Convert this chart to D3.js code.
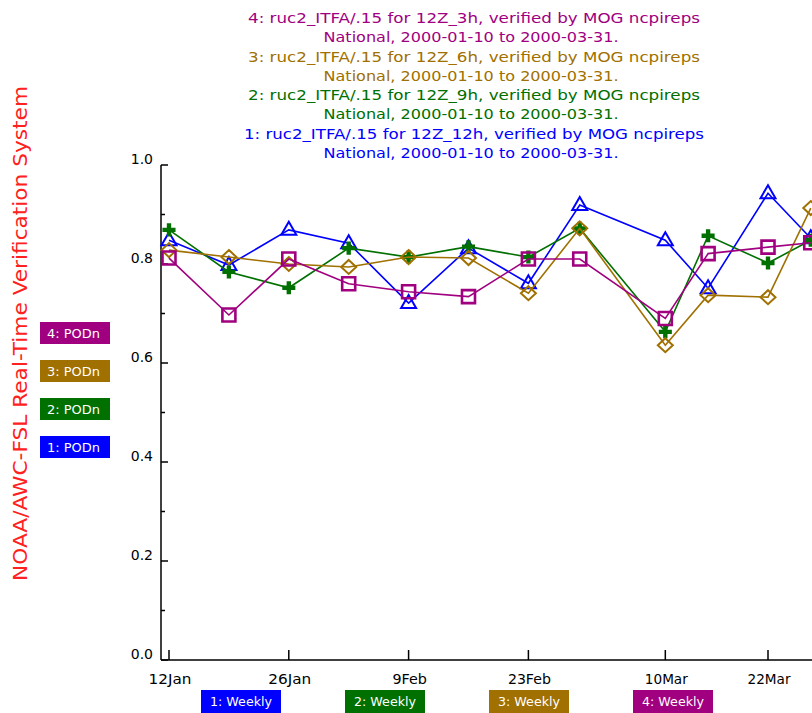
<!DOCTYPE html>
<html>
<head>
<meta charset="utf-8">
<script src="https://cdn.jsdelivr.net/npm/d3@7"></script>
<style>
  body { margin: 0; background: #fff; }
  text { font-family: "DejaVu Sans", sans-serif; }
</style>
</head>
<body>
<div id="chart"></div>
<script>
// weekly sample dates (centre of each verification week)
var dates = ["2000-01-12", "2000-01-19", "2000-01-26", "2000-02-02", "2000-02-09", "2000-02-16",
  "2000-02-23", "2000-02-29", "2000-03-10", "2000-03-15", "2000-03-22", "2000-03-27"];

// PODn for each run
var pod12h = [0.848, 0.798, 0.869, 0.842, 0.721, 0.832, 0.761, 0.919, 0.848, 0.751, 0.943, 0.852];
var pod9h = [0.869, 0.784, 0.752, 0.832, 0.814, 0.835, 0.814, 0.872, 0.663, 0.857, 0.802, 0.848];
var pod6h = [0.828, 0.814, 0.800, 0.794, 0.814, 0.812, 0.741, 0.872, 0.636, 0.737, 0.733, 0.913];
var pod3h = [0.812, 0.697, 0.810, 0.760, 0.744, 0.734, 0.810, 0.810, 0.690, 0.821, 0.834, 0.843];

var tickDates = ["2000-01-12", "2000-01-26", "2000-02-09", "2000-02-23", "2000-03-10", "2000-03-22"];
var tickLabels = ["12Jan", "26Jan", "9Feb", "23Feb", "10Mar", "22Mar"];
var yTicks = [0.0, 0.2, 0.4, 0.6, 0.8, 1.0];
var yMinor = [0.1, 0.3, 0.5, 0.7, 0.9];

var titleLines = [
  "4: ruc2_ITFA/.15 for 12Z_3h, verified by MOG ncpireps",
  "3: ruc2_ITFA/.15 for 12Z_6h, verified by MOG ncpireps",
  "2: ruc2_ITFA/.15 for 12Z_9h, verified by MOG ncpireps",
  "1: ruc2_ITFA/.15 for 12Z_12h, verified by MOG ncpireps"
];
var subTitle = "National, 2000-01-10 to 2000-03-31.";

var colors = { 1: "#0000ff", 2: "#007000", 3: "#a07000", 4: "#a0007f" };

var svgWidth = 812;
var svgHeight = 713;

var parse = d3.utcParse("%Y-%m-%d");

var svg = d3.select("#chart")
  .append("svg")
  .attr("width", svgWidth)
  .attr("height", svgHeight);

// scales
var xScale = d3.scaleUtc()
  .domain([parse("2000-01-12"), parse("2000-03-22")])
  .range([169, 768]);

var yScale = d3.scaleLinear()
  .domain([0, 1])
  .range([660, 165]);

// titles at top, one pair of lines per run
titleLines.forEach(function (t, i) {
  var c = colors[4 - i];
  svg.append("text")
    .attr("x", 474).attr("y", 23 + i * 38.6)
    .attr("text-anchor", "middle")
    .attr("font-size", 13.5)
    .attr("fill", c)
    .attr("textLength", i == 3 ? 460 : 452)
    .attr("lengthAdjust", "spacingAndGlyphs")
    .text(t);
  svg.append("text")
    .attr("x", 471).attr("y", 42 + i * 38.6)
    .attr("text-anchor", "middle")
    .attr("font-size", 13.5)
    .attr("fill", c)
    .attr("textLength", 295)
    .attr("lengthAdjust", "spacingAndGlyphs")
    .text(subTitle);
});

// side title
svg.append("text")
  .attr("transform", "translate(27, 333.5) rotate(-90)")
  .attr("text-anchor", "middle")
  .attr("font-size", 19)
  .attr("fill", "#ff2020")
  .attr("textLength", 495)
  .attr("lengthAdjust", "spacingAndGlyphs")
  .text("NOAA/AWC-FSL Real-Time Verification System");

// axes
var axisG = svg.append("g").attr("stroke", "#000").attr("stroke-width", 1.5);
axisG.append("line")
  .attr("x1", 161).attr("x2", svgWidth + 5)
  .attr("y1", yScale(0)).attr("y2", yScale(0));
axisG.append("line")
  .attr("x1", 161).attr("x2", 161)
  .attr("y1", yScale(1)).attr("y2", yScale(0));

axisG.selectAll(".ymaj").data(yTicks).enter().append("line")
  .attr("x1", 161).attr("x2", 168)
  .attr("y1", d => yScale(d)).attr("y2", d => yScale(d));
axisG.selectAll(".ymin").data(yMinor).enter().append("line")
  .attr("x1", 161).attr("x2", 165)
  .attr("y1", d => yScale(d)).attr("y2", d => yScale(d));

axisG.selectAll(".xmaj").data(tickDates).enter().append("line")
  .attr("x1", d => xScale(parse(d))).attr("x2", d => xScale(parse(d)))
  .attr("y1", yScale(0)).attr("y2", yScale(0) - 10);

svg.selectAll(".ylab").data(yTicks).enter().append("text")
  .attr("x", 153).attr("y", d => yScale(d) - 1)
  .attr("text-anchor", "end")
  .attr("font-size", 14)
  .text(d => d.toFixed(1));

svg.selectAll(".xlab").data(tickDates).enter().append("text")
  .attr("x", (d, i) => xScale(parse(d)) + 1).attr("y", 684)
  .attr("text-anchor", "middle")
  .attr("font-size", 14)
  .attr("textLength", (d, i) => tickLabels[i].length * 8.6)
  .attr("lengthAdjust", "spacingAndGlyphs")
  .text((d, i) => tickLabels[i]);

// series
var series = [
  { id: 1, values: pod12h, sym: "triangle" },
  { id: 2, values: pod9h, sym: "plus" },
  { id: 3, values: pod6h, sym: "diamond" },
  { id: 4, values: pod3h, sym: "square" }
];

var line = d3.line()
  .x((d, i) => xScale(parse(dates[i])))
  .y(d => yScale(d));

var symbolPath = {
  triangle: "M0,-8L7.5,5L-7.5,5Z",
  diamond: "M0,-7L7.5,0L0,7L-7.5,0Z",
  square: "M-6.5,-6.5H6.5V6.5H-6.5Z",
  plus: d3.symbol().type(d3.symbolCross).size(95)()
};

series.forEach(function (s) {
  var c = colors[s.id];
  svg.append("path")
    .datum(s.values)
    .attr("fill", "none")
    .attr("stroke", c)
    .attr("stroke-width", 1.6)
    .attr("d", line);

  svg.selectAll(".m" + s.id).data(s.values).enter().append("path")
    .attr("transform", (d, i) => `translate(${xScale(parse(dates[i]))}, ${yScale(d)})`)
    .attr("d", symbolPath[s.sym])
    .attr("fill", s.sym == "plus" ? c : "none")
    .attr("stroke", s.sym == "plus" ? "none" : c)
    .attr("stroke-width", s.sym == "square" ? 2.6 : 2);
});

// left legend boxes
[4, 3, 2, 1].forEach(function (id, i) {
  var y0 = 322 + i * 38;
  svg.append("rect")
    .attr("x", 40).attr("y", y0).attr("width", 70).attr("height", 22)
    .attr("fill", colors[id]);
  svg.append("text")
    .attr("x", 47).attr("y", y0 + 16)
    .attr("font-size", 13)
    .attr("fill", "#fff")
    .attr("textLength", 53)
    .attr("lengthAdjust", "spacingAndGlyphs")
    .text(id + ": PODn");
});

// bottom legend boxes
[1, 2, 3, 4].forEach(function (id, i) {
  var x0 = 201 + i * 144;
  svg.append("rect")
    .attr("x", x0).attr("y", 690).attr("width", 80).attr("height", 23)
    .attr("fill", colors[id]);
  svg.append("text")
    .attr("x", x0 + 40).attr("y", 706)
    .attr("text-anchor", "middle")
    .attr("font-size", 13)
    .attr("fill", "#fff")
    .attr("textLength", 62)
    .attr("lengthAdjust", "spacingAndGlyphs")
    .text(id + ": Weekly");
});
</script>
</body>
</html>
